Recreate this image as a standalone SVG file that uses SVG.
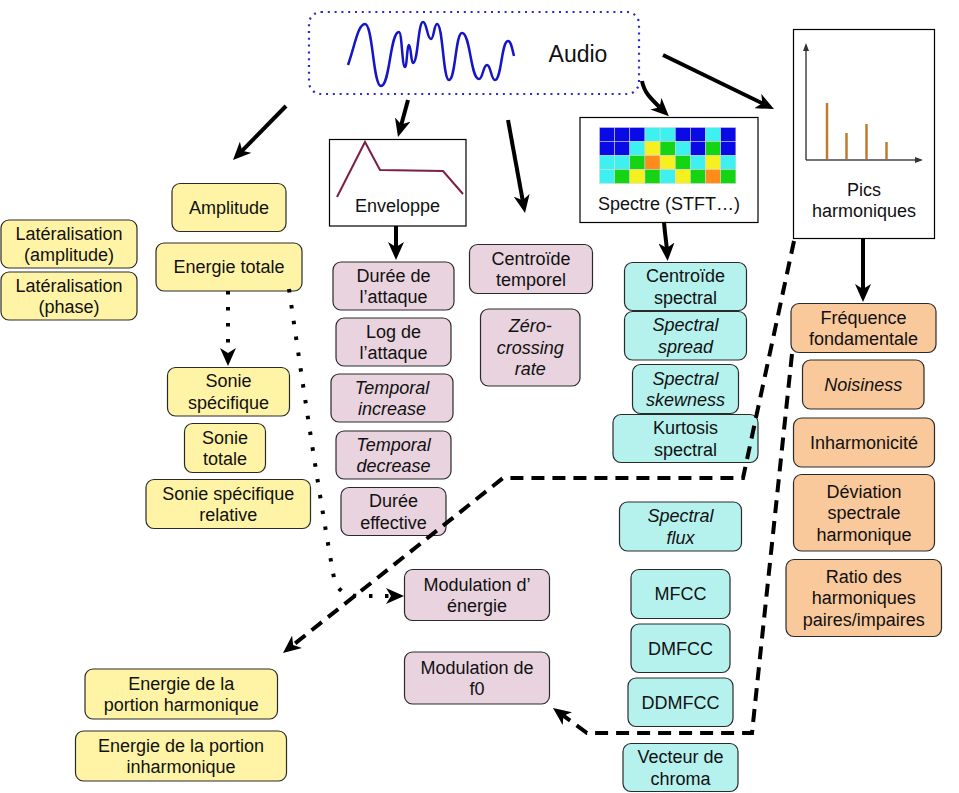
<svg xmlns="http://www.w3.org/2000/svg" width="959" height="793" viewBox="0 0 959 793">
<style>
.bx{stroke:#2a2a2a;stroke-width:1.2}
.y{fill:#fff4a6}
.p{fill:#e8d3de}
.c{fill:#b5f2ee}
.o{fill:#f9c89b}
.w{fill:#ffffff;stroke:#000;stroke-width:1.2}
text{font-family:"Liberation Sans",Arial,sans-serif;font-size:18px;fill:#111;text-anchor:middle}
.i{font-style:italic}
.cn{stroke:#000;stroke-width:4;fill:none;marker-end:url(#arr)}
.dash{stroke-dasharray:13 8}
.dot{stroke-dasharray:3.5 12.5}
.cell{stroke:#d8d8d8;stroke-width:0.5}
.B{fill:#0a0ae6}.C{fill:#3ff0f0}.Y{fill:#f6f020}.G{fill:#14d414}.O{fill:#ff8c1a}
.pk{stroke:#c27a30;stroke-width:2.5}
</style>
<defs>
<marker id="arr" viewBox="0 0 18 16" markerWidth="18" markerHeight="16" markerUnits="userSpaceOnUse" refX="8" refY="8" orient="auto">
<path d="M0,0 L18,8 L0,16 L5,8 z" fill="#000"/>
</marker>
<marker id="ax" viewBox="0 0 8 8" markerWidth="8" markerHeight="8" markerUnits="userSpaceOnUse" refX="6" refY="4" orient="auto">
<path d="M0,1 L8,4 L0,7 z" fill="#333"/>
</marker>
</defs>
<rect width="959" height="793" fill="#ffffff"/>

<g id="audio">
<rect x="309" y="12" width="330" height="82" rx="12" fill="none" stroke="#2a2acc" stroke-width="2.2" stroke-dasharray="2 4.8"/>
<path d="M348,65 C355,45 358,24 365,24 C373,24 373,86 381,86 C390,86 390,32 399,32 C402,32 402,67 405,67 C407,67 407,45 409,45 C411,45 411,63 413,63 C418,63 418,22 423,22 C427,22 427,39 431,39 C434,39 434,24 437,24 C443,24 443,80 449,80 C455.5,80 455.5,33 462,33 C470.5,33 470.5,79 479,79 C483,79 483,65 487,65 C491,65 491,80 495,80 C501.5,80 501.5,41 508,41 C511,41 512,48 514,56" fill="none" stroke="#1414c8" stroke-width="2.5"/>
<text x="578" y="62" style="font-size:23px">Audio</text>
</g>

<g id="enveloppe">
<rect class="w" x="329.5" y="139.5" width="136.5" height="86.5"/>
<polyline points="337,197 365,142 380,170 443,171 463,194" fill="none" stroke="#7b1f47" stroke-width="2"/>
<text x="397.5" y="212">Enveloppe</text>
</g>

<g id="spectre">
<rect class="w" x="580" y="117.5" width="178" height="105"/>
<g class="cell">
<rect class="B" x="599.5" y="127.5" width="15.15" height="14"/><rect class="B" x="614.65" y="127.5" width="15.15" height="14"/><rect class="B" x="629.8" y="127.5" width="15.15" height="14"/><rect class="C" x="644.95" y="127.5" width="15.15" height="14"/><rect class="C" x="660.1" y="127.5" width="15.15" height="14"/><rect class="B" x="675.25" y="127.5" width="15.15" height="14"/><rect class="B" x="690.4" y="127.5" width="15.15" height="14"/><rect class="C" x="705.55" y="127.5" width="15.15" height="14"/><rect class="B" x="720.7" y="127.5" width="15.15" height="14"/>
<rect class="B" x="599.5" y="141.5" width="15.15" height="14"/><rect class="B" x="614.65" y="141.5" width="15.15" height="14"/><rect class="C" x="629.8" y="141.5" width="15.15" height="14"/><rect class="Y" x="644.95" y="141.5" width="15.15" height="14"/><rect class="G" x="660.1" y="141.5" width="15.15" height="14"/><rect class="C" x="675.25" y="141.5" width="15.15" height="14"/><rect class="B" x="690.4" y="141.5" width="15.15" height="14"/><rect class="G" x="705.55" y="141.5" width="15.15" height="14"/><rect class="B" x="720.7" y="141.5" width="15.15" height="14"/>
<rect class="C" x="599.5" y="155.5" width="15.15" height="14"/><rect class="C" x="614.65" y="155.5" width="15.15" height="14"/><rect class="G" x="629.8" y="155.5" width="15.15" height="14"/><rect class="O" x="644.95" y="155.5" width="15.15" height="14"/><rect class="Y" x="660.1" y="155.5" width="15.15" height="14"/><rect class="G" x="675.25" y="155.5" width="15.15" height="14"/><rect class="C" x="690.4" y="155.5" width="15.15" height="14"/><rect class="Y" x="705.55" y="155.5" width="15.15" height="14"/><rect class="C" x="720.7" y="155.5" width="15.15" height="14"/>
<rect class="C" x="599.5" y="169.5" width="15.15" height="14"/><rect class="G" x="614.65" y="169.5" width="15.15" height="14"/><rect class="Y" x="629.8" y="169.5" width="15.15" height="14"/><rect class="G" x="644.95" y="169.5" width="15.15" height="14"/><rect class="C" x="660.1" y="169.5" width="15.15" height="14"/><rect class="Y" x="675.25" y="169.5" width="15.15" height="14"/><rect class="G" x="690.4" y="169.5" width="15.15" height="14"/><rect class="O" x="705.55" y="169.5" width="15.15" height="14"/><rect class="G" x="720.7" y="169.5" width="15.15" height="14"/>
</g>
<text x="669" y="210">Spectre (STFT…)</text>
</g>

<g id="pics">
<rect class="w" x="793.5" y="29.5" width="141" height="209"/>
<line x1="806" y1="160" x2="806" y2="45" stroke="#444" stroke-width="1.5" marker-end="url(#ax)"/>
<line x1="806" y1="160" x2="921" y2="160" stroke="#444" stroke-width="1.5" marker-end="url(#ax)"/>
<line class="pk" x1="827" y1="103" x2="827" y2="159"/>
<line class="pk" x1="846.5" y1="133" x2="846.5" y2="159"/>
<line class="pk" x1="866.5" y1="124" x2="866.5" y2="159"/>
<line class="pk" x1="886.5" y1="142" x2="886.5" y2="159"/>
<text x="864" y="196">Pics</text>
<text x="864" y="217">harmoniques</text>
</g>

<g id="lat-amplitude"><rect class="bx y" x="1" y="220" width="136" height="48" rx="8"/><text x="69" y="239.7">Latéralisation</text><text x="69" y="261.2">(amplitude)</text></g>
<g id="lat-phase"><rect class="bx y" x="1" y="272" width="136" height="48" rx="8"/><text x="69" y="291.7">Latéralisation</text><text x="69" y="313.2">(phase)</text></g>
<g id="amplitude"><rect class="bx y" x="172" y="183.5" width="114" height="48" rx="8"/><text x="229" y="213.9">Amplitude</text></g>
<g id="energie-totale"><rect class="bx y" x="156" y="243" width="146" height="48" rx="8"/><text x="229" y="273.4">Energie totale</text></g>
<g id="sonie-specifique"><rect class="bx y" x="167.5" y="367.5" width="122" height="48.5" rx="8"/><text x="228.5" y="387.4">Sonie</text><text x="228.5" y="408.9">spécifique</text></g>
<g id="sonie-totale"><rect class="bx y" x="184.5" y="423.5" width="81" height="49" rx="8"/><text x="225" y="443.7">Sonie</text><text x="225" y="465.2">totale</text></g>
<g id="sonie-relative"><rect class="bx y" x="146" y="479.5" width="164.5" height="49" rx="8"/><text x="228.25" y="499.7">Sonie spécifique</text><text x="228.25" y="521.2">relative</text></g>
<g id="energie-harmonique"><rect class="bx y" x="85" y="669" width="192.5" height="50" rx="8"/><text x="181.25" y="689.7">Energie de la</text><text x="181.25" y="711.2">portion harmonique</text></g>
<g id="energie-inharmonique"><rect class="bx y" x="75.5" y="731" width="211" height="50" rx="8"/><text x="181" y="751.7">Energie de la portion</text><text x="181" y="773.2">inharmonique</text></g>

<g id="duree-attaque"><rect class="bx p" x="333" y="262" width="121" height="48" rx="8"/><text x="393.5" y="281.7">Durée de</text><text x="393.5" y="303.2">l’attaque</text></g>
<g id="log-attaque"><rect class="bx p" x="336" y="318" width="115" height="48" rx="8"/><text x="393.5" y="337.7">Log de</text><text x="393.5" y="359.2">l’attaque</text></g>
<g id="temporal-increase"><rect class="bx p" x="331" y="374" width="122" height="48" rx="8"/><text class="i" x="392" y="393.7">Temporal</text><text class="i" x="392" y="415.2">increase</text></g>
<g id="temporal-decrease"><rect class="bx p" x="336" y="431" width="115" height="48" rx="8"/><text class="i" x="393.5" y="450.7">Temporal</text><text class="i" x="393.5" y="472.2">decrease</text></g>
<g id="duree-effective"><rect class="bx p" x="341" y="487.5" width="105" height="48" rx="8"/><text x="393.5" y="507.2">Durée</text><text x="393.5" y="528.7">effective</text></g>
<g id="centroide-temporel"><rect class="bx p" x="469.5" y="244.5" width="123" height="49" rx="8"/><text x="531" y="264.7">Centroïde</text><text x="531" y="286.2">temporel</text></g>
<g id="zero-crossing"><rect class="bx p" x="480.5" y="309" width="99.5" height="77" rx="8"/><text class="i" x="530.25" y="332.4">Zéro-</text><text class="i" x="530.25" y="353.9">crossing</text><text class="i" x="530.25" y="375.4">rate</text></g>
<g id="modulation-energie"><rect class="bx p" x="404.5" y="569.5" width="145" height="51" rx="8"/><text x="477" y="590.7">Modulation d’</text><text x="477" y="612.2">énergie</text></g>
<g id="modulation-f0"><rect class="bx p" x="404.5" y="652" width="145" height="52" rx="8"/><text x="477" y="673.7">Modulation de</text><text x="477" y="695.2">f0</text></g>

<g id="centroide-spectral"><rect class="bx c" x="624.5" y="262.5" width="122" height="48" rx="8"/><text x="685.5" y="282.2">Centroïde</text><text x="685.5" y="303.7">spectral</text></g>
<g id="spectral-spread"><rect class="bx c" x="624.5" y="311.5" width="122" height="48.5" rx="8"/><text class="i" x="685.5" y="331.4">Spectral</text><text class="i" x="685.5" y="352.9">spread</text></g>
<g id="spectral-skewness"><rect class="bx c" x="632.5" y="364.5" width="106" height="49" rx="8"/><text class="i" x="685.5" y="384.7">Spectral</text><text class="i" x="685.5" y="406.2">skewness</text></g>
<g id="kurtosis"><rect class="bx c" x="613" y="414.5" width="145" height="48" rx="8"/><text x="685.5" y="434.2">Kurtosis</text><text x="685.5" y="455.7">spectral</text></g>
<g id="spectral-flux"><rect class="bx c" x="619.5" y="502" width="122" height="49" rx="8"/><text class="i" x="680.5" y="522.2">Spectral</text><text class="i" x="680.5" y="543.7">flux</text></g>
<g id="mfcc"><rect class="bx c" x="631" y="569.5" width="99" height="49" rx="8"/><text x="680.5" y="600.4">MFCC</text></g>
<g id="dmfcc"><rect class="bx c" x="631" y="624" width="99" height="48.5" rx="8"/><text x="680.5" y="654.6">DMFCC</text></g>
<g id="ddmfcc"><rect class="bx c" x="628" y="678" width="105" height="48.5" rx="8"/><text x="680.5" y="708.6">DDMFCC</text></g>
<g id="chroma"><rect class="bx c" x="623" y="743.5" width="115" height="48" rx="8"/><text x="680.5" y="763.2">Vecteur de</text><text x="680.5" y="784.7">chroma</text></g>

<g id="frequence-fondamentale"><rect class="bx o" x="791" y="303.5" width="145" height="49" rx="8"/><text x="863.5" y="323.7">Fréquence</text><text x="863.5" y="345.2">fondamentale</text></g>
<g id="noisiness"><rect class="bx o" x="802.5" y="360" width="121.5" height="49" rx="8"/><text class="i" x="863.25" y="390.9">Noisiness</text></g>
<g id="inharmonicite"><rect class="bx o" x="793.5" y="418" width="141" height="49" rx="8"/><text x="864" y="448.9">Inharmonicité</text></g>
<g id="deviation"><rect class="bx o" x="793.5" y="474.5" width="141" height="76.5" rx="8"/><text x="864" y="497.6">Déviation</text><text x="864" y="519.1">spectrale</text><text x="864" y="540.6">harmonique</text></g>
<g id="ratio"><rect class="bx o" x="786" y="559.5" width="155.5" height="77" rx="8"/><text x="863.75" y="582.9">Ratio des</text><text x="863.75" y="604.4">harmoniques</text><text x="863.75" y="625.9">paires/impaires</text></g>

<g id="connectors">
<path class="cn" d="M286,106 L240,152.9"/>
<path class="cn" d="M408,100 L400.6,127.3"/>
<path class="cn" d="M508,120 L523.2,203.2"/>
<path class="cn" d="M642,81 C644,92 650,98 661.7,109.3"/>
<path class="cn" d="M663,55 L765,104.6"/>
<path class="cn" d="M396,226 L396,250"/>
<path class="cn" d="M664,222 C665,235 666.5,243 667,251"/>
<path class="cn" d="M863,238 L863,292"/>
<path class="cn dash" d="M794,241 L743,478 L503,478 L290.8,646.8"/>
<path class="cn dash" d="M792,354 L752,733 L587,733 L561,713.9"/>
<path class="cn dot" d="M228,291 L228,356"/>
<path class="cn dot" d="M289,289 C305,400 320,500 334,578 Q338,596 360,596 L394,596"/>
</g>
</svg>
